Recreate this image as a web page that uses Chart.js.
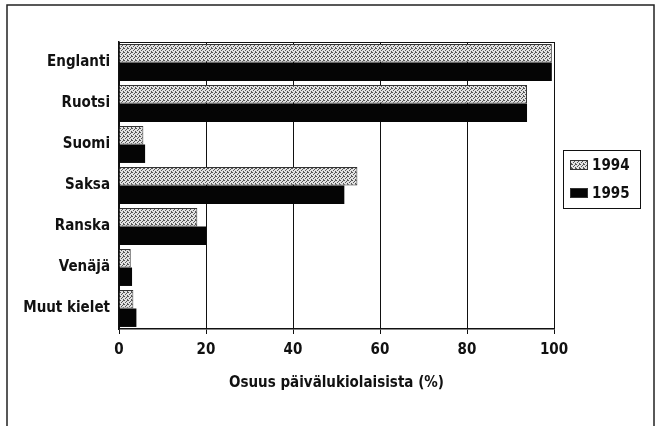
<!DOCTYPE html>
<html>
<head>
<meta charset="utf-8">
<script src="https://cdn.jsdelivr.net/npm/chart.js@4.4.0/dist/chart.umd.min.js"></script>
<style>
  body { margin: 0; background: #fff; }
  #wrap { width: 666px; height: 426px; }
</style>
</head>
<body>
<div id="wrap"><canvas id="myChart" width="666" height="426"></canvas></div>
<script>
// data
const languages = ['Englanti', 'Ruotsi', 'Suomi', 'Saksa', 'Ranska', 'Venäjä', 'Muut kielet'];
const share1994 = [99.5, 93.8, 5.6, 54.8, 18.0, 2.7, 3.3];
const share1995 = [99.5, 93.8, 6.0, 51.8, 20.0, 3.0, 4.0];
const xTicks = [0, 20, 40, 60, 80, 100];
const xTitle = 'Osuus päivälukiolaisista (%)';

const FONT = '"Liberation Sans Narrow", "DejaVu Sans Condensed", "Liberation Sans", sans-serif';

// dotted grey fill like the old print raster
function dotPattern() {
    const c = document.createElement('canvas');
    c.width = 4; c.height = 4;
    const g = c.getContext('2d');
    g.fillStyle = '#e2e2e2';
    g.fillRect(0, 0, 4, 4);
    g.fillStyle = '#555';
    [[0, 0], [2, 1], [1, 2], [3, 3], [3, 0]].forEach(p => g.fillRect(p[0], p[1], 1, 1));
    return g.createPattern(c, 'repeat');
}

const frame = {
    id: 'frame',
    beforeDraw(chart) {
        const ctx = chart.ctx;
        ctx.save();
        ctx.strokeStyle = '#222';
        ctx.lineWidth = 1.5;
        ctx.strokeRect(7, 5, 647, 430);
        ctx.restore();
    },
    afterDraw(chart) {
        const ctx = chart.ctx;
        const a = chart.chartArea;
        ctx.save();
        ctx.strokeStyle = '#111';
        ctx.lineWidth = 1;
        ctx.beginPath();
        ctx.moveTo(a.left, a.top + 0.5);
        ctx.lineTo(a.right, a.top + 0.5);
        ctx.stroke();

        // legend box
        const lx = 563, ly = 150, lw = 77, lh = 58;
        ctx.strokeRect(lx + 0.5, ly + 0.5, lw, lh);
        ctx.font = 'bold 15px ' + FONT;
        ctx.textBaseline = 'middle';
        chart.data.datasets.forEach((ds, i) => {
            const cy = ly + 15 + i * 28;
            ctx.fillStyle = ds.backgroundColor;
            ctx.fillRect(lx + 7, cy - 5, 18, 10);
            ctx.strokeStyle = '#333';
            ctx.strokeRect(lx + 7.5, cy - 4.5, 17, 9);
            ctx.fillStyle = '#111';
            ctx.fillText(ds.label, lx + 29, cy + 1);
        });
        ctx.restore();
    }
};

const ctx = document.getElementById('myChart').getContext('2d');
new Chart(ctx, {
    type: 'bar',
    data: {
        labels: languages,
        datasets: [
            {
                label: '1994',
                data: share1994,
                backgroundColor: dotPattern(),
                borderColor: '#333',
                borderWidth: 1,
                borderSkipped: 'start'
            },
            {
                label: '1995',
                data: share1995,
                backgroundColor: '#050505',
                borderWidth: 0
            }
        ]
    },
    options: {
        indexAxis: 'y',
        responsive: false,
        animation: false,
        barPercentage: 1.0,
        categoryPercentage: 0.9,
        layout: { padding: { left: 0, right: 112, top: 42, bottom: 27 } },
        plugins: {
            legend: { display: false },
            tooltip: { enabled: false }
        },
        scales: {
            x: {
                min: 0,
                max: 100,
                afterBuildTicks: s => { s.ticks = xTicks.map(v => ({ value: v })); },
                afterFit: s => { s.height = 70; },
                grid: { color: '#111', lineWidth: 1, tickLength: 5, drawTicks: true },
                border: { color: '#111', width: 1.5 },
                ticks: { color: '#111', padding: 7, font: { family: FONT, size: 15, weight: 'bold' } },
                title: {
                    display: true,
                    text: xTitle,
                    color: '#111',
                    padding: { top: 0, bottom: 7 },
                    font: { family: FONT, size: 15, weight: 'bold' }
                }
            },
            y: {
                afterFit: s => { s.width = 119; },
                grid: { display: false, drawTicks: false },
                border: { color: '#111', width: 1.5 },
                ticks: { color: '#111', padding: 9, font: { family: FONT, size: 15, weight: 'bold' } }
            }
        }
    },
    plugins: [frame]
});
</script>
</body>
</html>
